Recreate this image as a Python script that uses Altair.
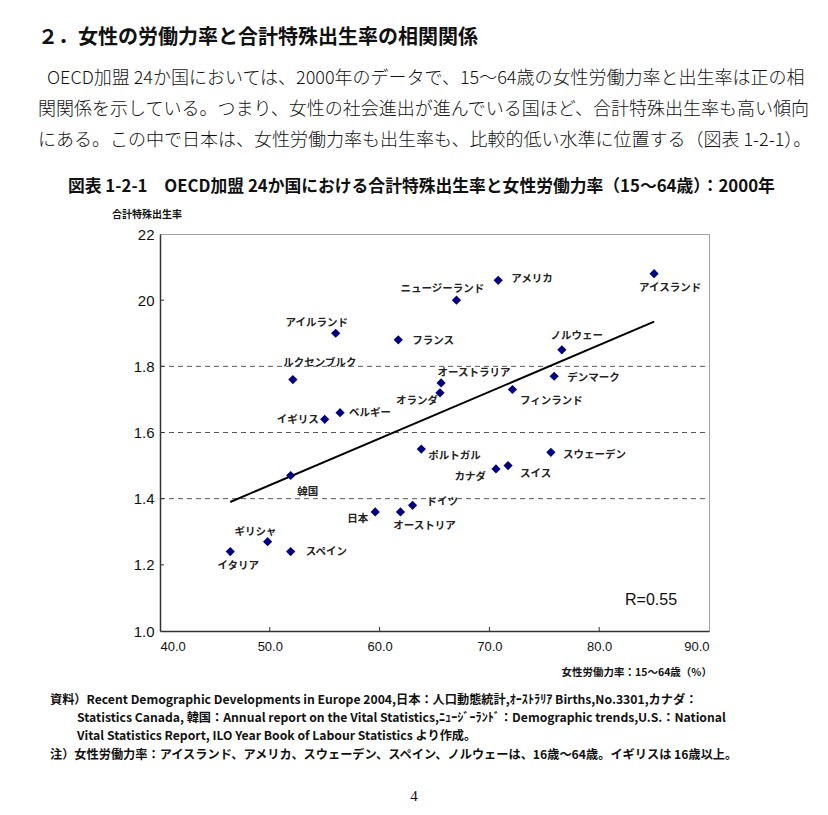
import altair as alt
import pandas as pd

# ---------------- data ----------------
countries = ["イタリア", "ギリシャ", "スペイン", "韓国", "日本", "オーストリア", "ドイツ",
             "ポルトガル", "カナダ", "スイス", "スウェーデン", "イギリス", "ベルギー",
             "ルクセンブルク", "オランダ", "オーストラリア", "フィンランド", "デンマーク",
             "ノルウェー", "アイルランド", "フランス", "ニュージーランド", "アメリカ", "アイスランド"]
labour = [46.4, 49.8, 51.9, 51.9, 59.6, 61.9, 63.0,
          63.8, 70.6, 71.7, 75.6, 55.0, 56.4,
          52.1, 65.5, 65.6, 72.1, 75.9,
          76.6, 56.0, 61.7, 67.0, 70.8, 85.0]
fertility = [1.24, 1.27, 1.24, 1.47, 1.36, 1.36, 1.38,
             1.55, 1.49, 1.50, 1.54, 1.64, 1.66,
             1.76, 1.72, 1.75, 1.73, 1.77,
             1.85, 1.90, 1.88, 2.00, 2.06, 2.08]

trend_x = [46.4, 85.0]
trend_y = [1.39, 1.935]

grid_values = [1.4, 1.6, 1.8]
x_ticks = [40, 50, 60, 70, 80, 90]
y_ticks = [1.0, 1.2, 1.4, 1.6, 1.8, 2.0, 2.2]

# label offsets in pixels (dx, dy, align)
label_offsets = {
    "イタリア": (8, 14, "center"), "ギリシャ": (-12, -10, "center"), "スペイン": (15, 0, "left"),
    "韓国": (17, 16, "center"), "日本": (-7, 7, "right"), "オーストリア": (24, 14, "center"),
    "ドイツ": (14, -3, "left"), "ポルトガル": (7, 7, "left"), "カナダ": (-10, 8, "right"),
    "スイス": (12, 8, "left"), "スウェーデン": (12, 3, "left"), "イギリス": (-6, 1, "right"),
    "ベルギー": (9, 0, "left"), "ルクセンブルク": (27, -17, "center"), "オランダ": (-2, 8, "right"),
    "オーストラリア": (33, -10, "center"), "フィンランド": (39, 12, "center"),
    "デンマーク": (13, 2, "left"), "ノルウェー": (15, -14, "center"),
    "アイルランド": (-19, -10, "center"), "フランス": (14, 1, "left"),
    "ニュージーランド": (-14, -11, "center"), "アメリカ": (13, -1, "left"),
    "アイスランド": (16, 14, "center"),
}

W, H = 549, 397
XD, YD = [40, 90], [1.0, 2.2]

df = pd.DataFrame({"country": countries, "labour": labour, "fertility": fertility})
df["lx"] = [x + label_offsets[c][0] * (XD[1] - XD[0]) / W for c, x in zip(countries, labour)]
df["ly"] = [y - label_offsets[c][1] * (YD[1] - YD[0]) / H for c, y in zip(countries, fertility)]
df["align"] = [label_offsets[c][2] for c in countries]

trend_df = pd.DataFrame({"labour": trend_x, "fertility": trend_y})
grid_df = pd.DataFrame({"fertility": grid_values})
xt_df = pd.DataFrame({"labour": x_ticks[1:-1]})
yt_df = pd.DataFrame({"fertility": y_ticks[1:-1]})

CJK = "Noto Sans CJK JP"
NUM = "Liberation Sans Narrow, Liberation Sans, Noto Sans CJK JP"

xs = alt.Scale(domain=XD, nice=False, zero=False)
ys = alt.Scale(domain=YD, nice=False, zero=False)

x_axis = alt.Axis(values=x_ticks, format=".1f", grid=False, ticks=False, title=None,
                  domainColor="#333", domainWidth=1.5, labelFont=NUM, labelFontSize=13,
                  labelColor="#111", labelPadding=9)
y_axis = alt.Axis(values=y_ticks, grid=False, ticks=False, title=None,
                  labelExpr="datum.value > 1.95 ? replace(format(datum.value, '.1f'), '.', '') : format(datum.value, '.1f')",
                  domainColor="#333", domainWidth=1.5, labelFont=NUM, labelFontSize=15,
                  labelColor="#111", labelPadding=6)

base = alt.Chart(df)

points = base.mark_point(shape="diamond", filled=True, size=85, color="#000080", opacity=1).encode(
    x=alt.X("labour:Q", scale=xs, axis=x_axis),
    y=alt.Y("fertility:Q", scale=ys, axis=y_axis),
)

def labels(al):
    return alt.Chart(df[df["align"] == al]).mark_text(
        align=al, baseline="middle", font=CJK, fontSize=10.5, fontWeight="bold", color="#222"
    ).encode(x=alt.X("lx:Q", scale=xs), y=alt.Y("ly:Q", scale=ys), text="country:N")

grid = alt.Chart(grid_df).mark_rule(color="#555", strokeDash=[5, 4], strokeWidth=1).encode(
    y=alt.Y("fertility:Q", scale=ys), x=alt.value(0), x2=alt.value(W))

xticks = alt.Chart(xt_df).mark_rule(color="#333", strokeWidth=1).encode(
    x=alt.X("labour:Q", scale=xs), y=alt.value(H), y2=alt.value(H - 4))
yticks = alt.Chart(yt_df).mark_rule(color="#333", strokeWidth=1).encode(
    y=alt.Y("fertility:Q", scale=ys), x=alt.value(0), x2=alt.value(4))

trend = alt.Chart(trend_df).mark_line(color="#000", strokeWidth=2).encode(
    x=alt.X("labour:Q", scale=xs), y=alt.Y("fertility:Q", scale=ys))


def page_text(text, x, y, size, weight="normal", align="left", font=CJK, color="#111"):
    return alt.Chart(alt.InlineData(values=[{}])).mark_text(
        text=text, align=align, baseline="middle", fontSize=size, fontWeight=weight,
        font=font, color=color
    ).encode(x=alt.value(x), y=alt.value(y))


heading = page_text("２．女性の労働力率と合計特殊出生率の相関関係", -122, -196, 20, "bold")
para1 = page_text("OECD加盟 24か国においては、2000年のデータで、15～64歳の女性労働力率と出生率は正の相",
                  -113, -155, 18, 300)
para2 = page_text("関関係を示している。つまり、女性の社会進出が進んでいる国ほど、合計特殊出生率も高い傾向",
                  -122, -124, 18, 300)
para3 = page_text("にある。この中で日本は、女性労働力率も出生率も、比較的低い水準に位置する（図表 1-2-1）。",
                  -122, -93, 18, 300)
ctitle = page_text("図表 1-2-1　OECD加盟 24か国における合計特殊出生率と女性労働力率（15～64歳）：2000年",
                   -92, -47, 16.8, "bold")
ytitle = page_text("合計特殊出生率", -13, -19, 10, "bold", "center")
xtitle = page_text("女性労働力率：15～64歳（%）", 552, 439, 10.5, "bold", "right")
rtext = page_text("R=0.55", 491, 366, 16, "normal", "center", font=NUM)

foot1 = page_text("資料）Recent Demographic Developments  in Europe 2004,日本：人口動態統計,ｵｰｽﾄﾗﾘｱ Births,No.3301,カナダ：",
                  -110, 466, 12.2, "bold")
foot2 = page_text("Statistics Canada,  韓国：Annual report on the Vital  Statistics,ﾆｭｰｼﾞｰﾗﾝﾄﾞ：Demographic trends,U.S.：National",
                  -83, 484, 12.2, "bold")
foot3 = page_text("Vital Statistics Report,  ILO  Year Book   of Labour Statistics より作成。",
                  -83, 502, 12.2, "bold")
foot4 = page_text("注）女性労働力率：アイスランド、アメリカ、スウェーデン、スペイン、ノルウェーは、16歳～64歳。イギリスは 16歳以上。",
                  -110, 521, 12.2, "bold")
pagenum = page_text("4", 254, 562, 15, "normal", "center", font="Liberation Serif")

chart = alt.layer(
    grid, xticks, yticks, trend, points, labels("left"), labels("right"), labels("center"),
    heading, para1, para2, para3, ctitle, ytitle, xtitle, rtext,
    foot1, foot2, foot3, foot4, pagenum,
).properties(
    width=W, height=H,
    padding={"left": 152, "top": 226, "right": 111, "bottom": 176},
    autosize=alt.AutoSizeParams(type="none"),
    background="white",
).configure_view(stroke="#a0a0a0", strokeWidth=1)

chart.save("out.html", embed_options={"renderer": "svg", "actions": False})
